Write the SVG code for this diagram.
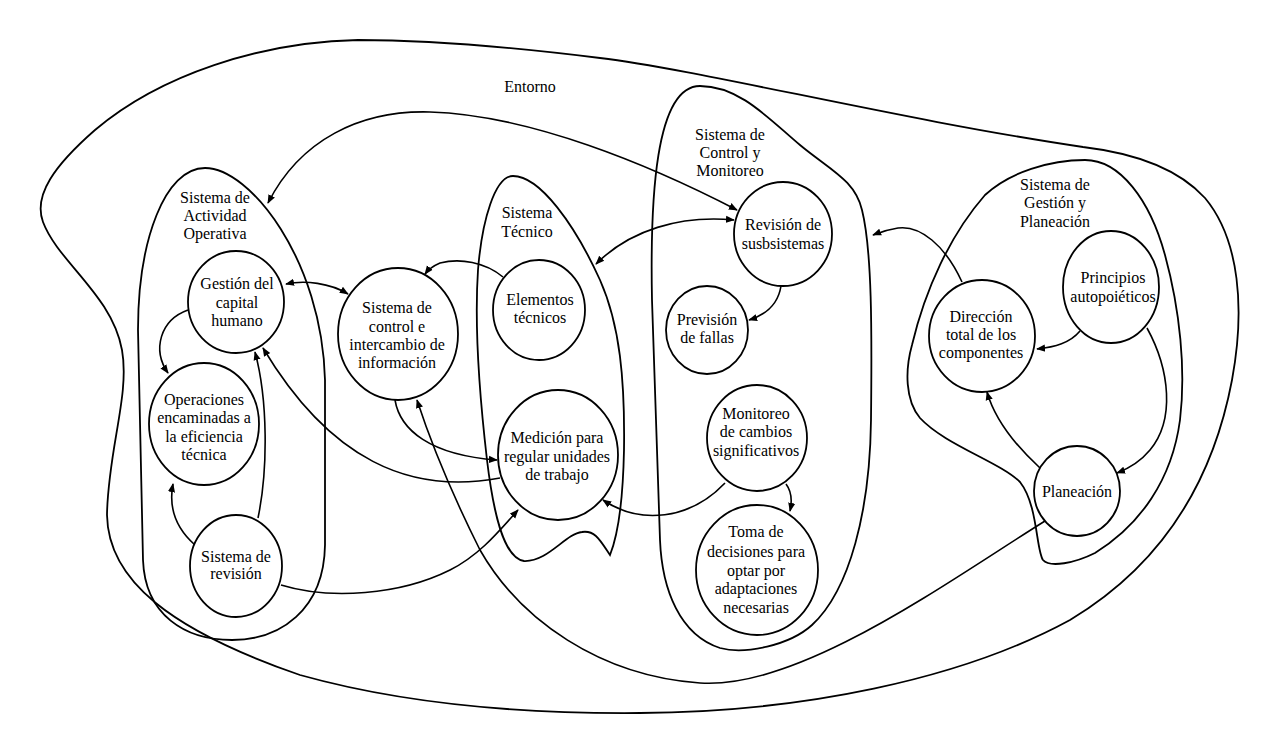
<svg xmlns="http://www.w3.org/2000/svg" width="1277" height="731" viewBox="0 0 1277 731">
<style>
.b{fill:none;stroke:#000;stroke-width:1.8}
.n{fill:#fff;stroke:#000;stroke-width:1.8}
.c{fill:none;stroke:#000;stroke-width:1.6}
.t{font-family:"Liberation Serif","Times New Roman",serif;font-size:16px;fill:#000;text-anchor:middle}
</style>
<defs>
<marker id="ah" viewBox="0 0 10 10" refX="9" refY="5" markerWidth="9" markerHeight="9" markerUnits="userSpaceOnUse" orient="auto-start-reverse">
<path d="M0,1 L10,5 L0,9 z" fill="#000"/>
</marker>
</defs>
<rect width="1277" height="731" fill="#fff"/>
<g id="entorno">
<path class="b" d="M 358 40 C 260 42, 160 75, 95 130 C 55 165, 33 195, 43 222 C 58 262, 112 295, 122 350 C 130 395, 108 450, 107 515 C 108 580, 170 630, 300 675 C 400 703, 520 714, 640 713 C 800 712, 960 680, 1070 620 C 1170 560, 1215 470, 1232 380 C 1245 310, 1240 240, 1205 198 C 1175 165, 1125 152, 1083 147 C 900 120, 700 70, 600 58 C 520 48, 430 40, 358 40 Z"/>
<text class="t" x="530" y="92">Entorno</text>
</g>
<g id="sistema-actividad-operativa">
<path class="b" d="M 205 168 C 250 168, 322 260, 325 380 L 325 545 C 324 610, 280 640, 232 640 C 185 640, 145 615, 143 560 L 138 330 C 138 240, 165 168, 205 168 Z"/>
<text class="t" x="215" y="203">Sistema de</text>
<text class="t" x="215" y="221">Actividad</text>
<text class="t" x="215" y="239">Operativa</text>
</g>
<g id="sistema-tecnico">
<path class="b" d="M 513 176 C 540 176, 575 225, 600 280 C 620 325, 625 380, 624 450 C 623 500, 618 535, 610 555 C 600 540, 595 530, 582 532 C 565 534, 548 562, 524 561 C 503 558, 493 510, 487 460 C 480 400, 474 330, 478 270 C 482 220, 495 176, 513 176 Z"/>
<text class="t" x="527" y="218">Sistema</text>
<text class="t" x="527" y="237">Técnico</text>
</g>
<g id="sistema-control-monitoreo">
<path class="b" d="M 700 86 C 740 86, 770 120, 800 145 C 830 170, 855 180, 862 210 C 872 250, 872 330, 871 420 C 870 510, 850 590, 812 625 C 790 645, 745 655, 720 648 C 680 635, 662 590, 660 540 L 652 300 C 650 200, 655 86, 700 86 Z"/>
<text class="t" x="730" y="140">Sistema de</text>
<text class="t" x="730" y="158">Control y</text>
<text class="t" x="730" y="176">Monitoreo</text>
</g>
<g id="sistema-gestion-planeacion">
<path class="b" d="M 1085 160 C 1120 160, 1150 200, 1165 255 C 1180 310, 1186 370, 1180 420 C 1172 480, 1140 525, 1095 553 C 1075 563, 1050 568, 1043 560 C 1036 550, 1038 505, 1020 482 C 1000 462, 945 445, 920 418 C 905 400, 905 370, 912 345 C 925 290, 950 235, 985 195 C 1010 172, 1050 160, 1085 160 Z"/>
<text class="t" x="1055" y="190">Sistema de</text>
<text class="t" x="1055" y="208">Gestión y</text>
<text class="t" x="1055" y="227">Planeación</text>
</g>
<g id="connectors">
<path class="c" marker-start="url(#ah)" marker-end="url(#ah)" d="M 268 203 C 300 140, 360 110, 430 112 C 530 115, 650 165, 737 210"/>
<path class="c" marker-start="url(#ah)" marker-end="url(#ah)" d="M 596 264 C 630 230, 680 215, 734 220"/>
<path class="c" marker-end="url(#ah)" d="M 781 286 C 778 305, 765 315, 749 320"/>
<path class="c" marker-end="url(#ah)" d="M 962 282 C 945 245, 920 225, 898 228 C 885 230, 878 233, 873 235"/>
<path class="c" marker-end="url(#ah)" d="M 1080 331 C 1070 343, 1055 347, 1037 349"/>
<path class="c" marker-end="url(#ah)" d="M 1147 328 C 1170 370, 1175 420, 1150 450 C 1140 462, 1130 468, 1117 473"/>
<path class="c" marker-end="url(#ah)" d="M 1040 468 C 1015 445, 995 420, 987 392"/>
<path class="c" marker-end="url(#ah)" d="M 1045 521 C 950 580, 800 690, 700 683 C 600 676, 520 620, 480 550 C 450 490, 430 440, 417 400"/>
<path class="c" marker-start="url(#ah)" marker-end="url(#ah)" d="M 286 284 C 305 280, 330 283, 348 294"/>
<path class="c" marker-end="url(#ah)" d="M 503 277 C 485 262, 460 258, 440 263 C 433 266, 428 270, 425 274"/>
<path class="c" marker-end="url(#ah)" d="M 395 400 C 400 430, 430 455, 497 460"/>
<path class="c" marker-end="url(#ah)" d="M 500 478 C 410 495, 330 460, 263 348"/>
<path class="c" marker-end="url(#ah)" d="M 258 518 C 268 470, 268 400, 255 352"/>
<path class="c" marker-end="url(#ah)" d="M 195 545 C 178 530, 168 510, 173 484"/>
<path class="c" marker-end="url(#ah)" d="M 188 310 C 160 320, 152 350, 168 373"/>
<path class="c" marker-end="url(#ah)" d="M 281 585 C 330 600, 400 595, 450 570 C 480 555, 500 530, 518 510"/>
<path class="c" marker-end="url(#ah)" d="M 725 483 C 690 520, 640 525, 603 500"/>
<path class="c" marker-end="url(#ah)" d="M 786 484 C 792 492, 792 502, 790 511"/>
</g>
<g id="gestion-capital-humano">
<ellipse class="n" cx="236" cy="302" rx="48" ry="51"/>
<text class="t" x="237" y="289">Gestión del</text>
<text class="t" x="237" y="308">capital</text>
<text class="t" x="237" y="326">humano</text>
</g>
<g id="operaciones-eficiencia">
<ellipse class="n" cx="204" cy="424" rx="55" ry="61"/>
<text class="t" x="204" y="405">Operaciones</text>
<text class="t" x="204" y="423">encaminadas a</text>
<text class="t" x="204" y="442">la eficiencia</text>
<text class="t" x="204" y="460">técnica</text>
</g>
<g id="sistema-revision">
<ellipse class="n" cx="236" cy="566" rx="46" ry="51"/>
<text class="t" x="236" y="562">Sistema de</text>
<text class="t" x="236" y="579">revisión</text>
</g>
<g id="sistema-control-intercambio">
<ellipse class="n" cx="398" cy="334" rx="60" ry="66"/>
<text class="t" x="397" y="313">Sistema de</text>
<text class="t" x="397" y="332">control e</text>
<text class="t" x="397" y="350">intercambio de</text>
<text class="t" x="397" y="368">información</text>
</g>
<g id="elementos-tecnicos">
<ellipse class="n" cx="539" cy="310" rx="46" ry="50"/>
<text class="t" x="540" y="305">Elementos</text>
<text class="t" x="540" y="323">técnicos</text>
</g>
<g id="medicion">
<ellipse class="n" cx="558" cy="455" rx="60" ry="65"/>
<text class="t" x="557" y="443">Medición para</text>
<text class="t" x="557" y="462">regular unidades</text>
<text class="t" x="557" y="480">de trabajo</text>
</g>
<g id="revision-subsistemas">
<ellipse class="n" cx="783" cy="234" rx="49" ry="52"/>
<text class="t" x="783" y="230">Revisión de</text>
<text class="t" x="783" y="249">susbsistemas</text>
</g>
<g id="prevision-fallas">
<ellipse class="n" cx="707" cy="330" rx="41" ry="44"/>
<text class="t" x="707" y="325">Previsión</text>
<text class="t" x="707" y="343">de fallas</text>
</g>
<g id="monitoreo-cambios">
<ellipse class="n" cx="757" cy="438" rx="50" ry="53"/>
<text class="t" x="756" y="419">Monitoreo</text>
<text class="t" x="756" y="437">de cambios</text>
<text class="t" x="756" y="456">significativos</text>
</g>
<g id="toma-decisiones">
<ellipse class="n" cx="757" cy="570" rx="61" ry="65"/>
<text class="t" x="756" y="537">Toma de</text>
<text class="t" x="756" y="557">decisiones para</text>
<text class="t" x="756" y="576">optar por</text>
<text class="t" x="756" y="594">adaptaciones</text>
<text class="t" x="756" y="613">necesarias</text>
</g>
<g id="principios-autopoieticos">
<ellipse class="n" cx="1111" cy="287" rx="48" ry="56"/>
<text class="t" x="1113" y="283">Principios</text>
<text class="t" x="1113" y="302">autopoiéticos</text>
</g>
<g id="direccion-total">
<ellipse class="n" cx="982" cy="336" rx="53" ry="56"/>
<text class="t" x="981" y="322">Dirección</text>
<text class="t" x="981" y="340">total de los</text>
<text class="t" x="981" y="358">componentes</text>
</g>
<g id="planeacion">
<ellipse class="n" cx="1077" cy="491" rx="43" ry="45"/>
<text class="t" x="1077" y="497">Planeación</text>
</g>
</svg>
